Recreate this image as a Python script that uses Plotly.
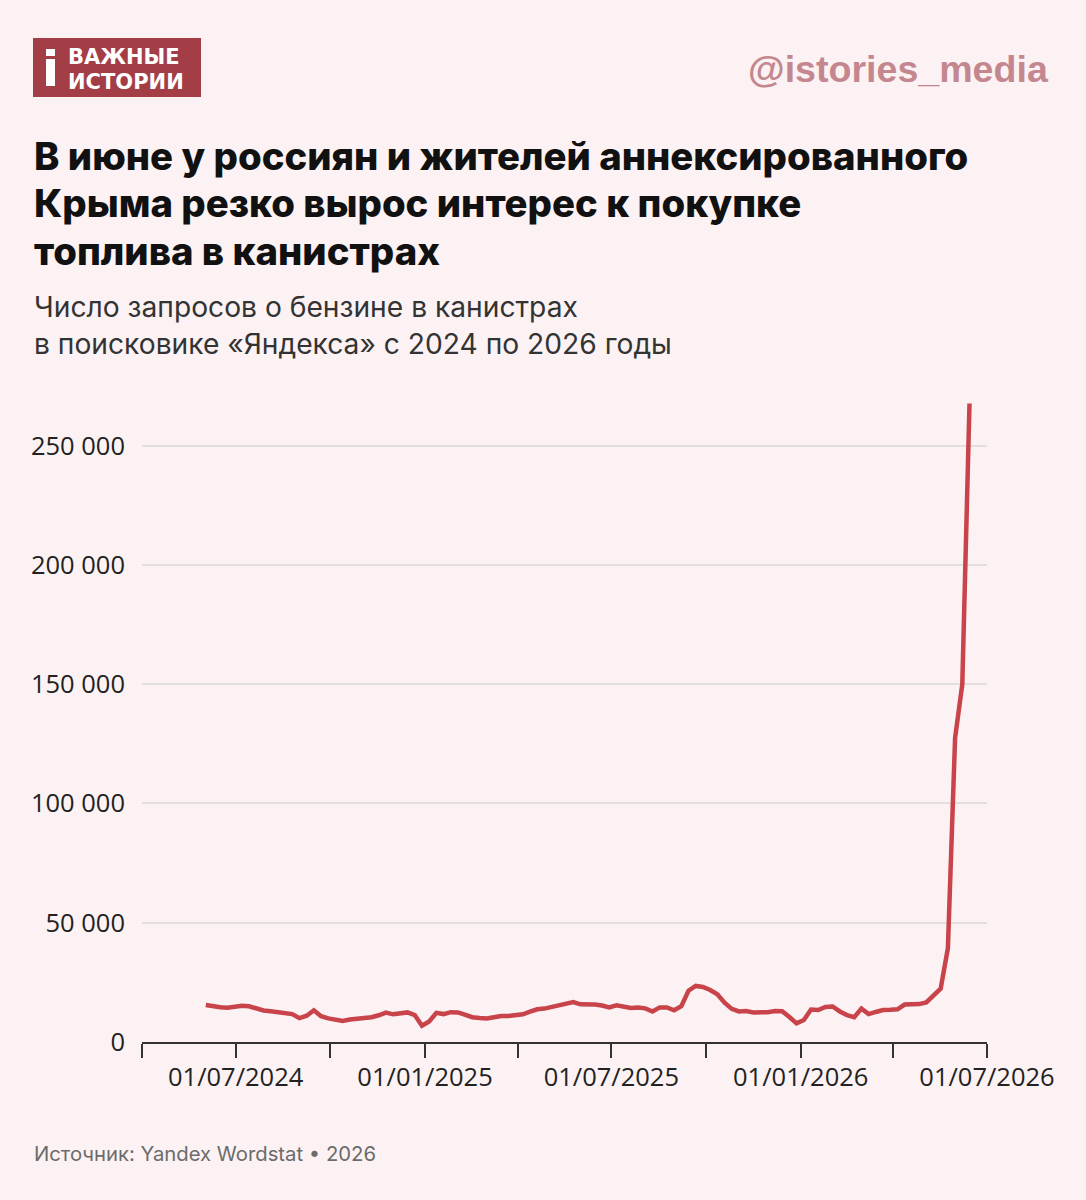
import plotly.graph_objects as go
import pandas as pd

# ---- data (weekly) ----
start_date = "2024-06-02"
n_weeks = 107
requests = [
    15500, 14900, 14600, 14400, 14900, 15200, 15000, 13900, 13200, 12900,
    12500, 12000, 11700, 10000, 11000, 13300, 10800, 9900, 9300, 8800,
    9400, 9700, 10000, 10400, 11200, 12300, 11600, 12200, 12400, 11300,
    6800, 8600, 12200, 11700, 12500, 12400, 11500, 10400, 10100, 9900,
    10400, 10900, 10900, 11200, 11600, 12700, 13700, 14000, 14700, 15500,
    16400, 16700, 15800, 15900, 15700, 15300, 14500, 15400, 14900, 14300,
    14500, 14100, 12800, 14500, 14500, 13300, 15000, 21500, 23500, 23100,
    21800, 20000, 16500, 13900, 12800, 13000, 12400, 12300, 12500, 13000,
    12900, 10500, 7800, 9200, 13600, 13400, 14700, 14900, 12800, 11300,
    10400, 14000, 11700, 12600, 13400, 13500, 13700, 15700, 15900, 15900,
    16600, 19500, 22400, 39300, 127500, 150000, 267700,
]
dates = pd.date_range(start_date, periods=n_weeks, freq="7D")

x_tickvals = ["2024-04-01", "2024-07-01", "2024-10-01", "2025-01-01", "2025-04-01",
              "2025-07-01", "2025-10-01", "2026-01-01", "2026-04-01", "2026-07-01"]
x_ticktext = ["", "01/07/2024", "", "01/01/2025", "", "01/07/2025", "",
              "01/01/2026", "", "01/07/2026"]
y_tickvals = [0, 50000, 100000, 150000, 200000, 250000]
y_ticktext = ["0", "50 000", "100 000", "150 000", "200 000", "250 000"]

title_lines = ["В июне у россиян и жителей аннексированного",
               "Крыма резко вырос интерес к покупке",
               "топлива в канистрах"]
subtitle_lines = ["Число запросов о бензине в канистрах",
                  "в поисковике «Яндекса» с 2024 по 2026 годы"]
source_text = "Источник: Yandex Wordstat • 2026"
logo_lines = ["ВАЖНЫЕ", "ИСТОРИИ"]
handle = "@istories_media"

# ---- layout geometry ----
W, H = 1086, 1200
L, R, T, B = 142, 99, 398, 158
PW, PH = W - L - R, H - T - B


def px(x):
    return (x - L) / PW


def py(y):
    return (H - B - y) / PH


BG = "#fcf2f3"
RED = "#c8434a"
LOGO = "#a33d46"

fig = go.Figure()
fig.add_trace(go.Scatter(
    x=dates, y=requests, mode="lines",
    line=dict(color=RED, width=4.5, shape="linear"),
    hoverinfo="skip", showlegend=False,
))

annotations = []
# title
for i, t in enumerate(title_lines):
    annotations.append(dict(
        text=t, x=px(32), y=py(156 + i * 47.5), xref="paper", yref="paper",
        xanchor="left", yanchor="middle", showarrow=False,
        font=dict(family="Inter", size=38.3, color="#111111", weight=800),
    ))
# subtitle
for i, t in enumerate(subtitle_lines):
    annotations.append(dict(
        text=t, x=px(32), y=py(307 + i * 37), xref="paper", yref="paper",
        xanchor="left", yanchor="middle", showarrow=False,
        font=dict(family="Inter", size=28.2, color="#333333"),
    ))
# source
annotations.append(dict(
    text=source_text, x=px(32), y=py(1153), xref="paper", yref="paper",
    xanchor="left", yanchor="middle", showarrow=False,
    font=dict(family="Inter", size=20.3, color="#6b6b6b"),
))
# handle
annotations.append(dict(
    text=handle, x=px(1051), y=py(69), xref="paper", yref="paper",
    xanchor="right", yanchor="middle", showarrow=False,
    font=dict(family="Liberation Sans", size=37.6, color="#c4878f", weight="bold"),
))
# logo text
for i, t in enumerate(logo_lines):
    annotations.append(dict(
        text=t, x=px(66), y=py(56.5 + i * 25), xref="paper", yref="paper",
        xanchor="left", yanchor="middle", showarrow=False,
        font=dict(family="DejaVu Sans", size=21, color="white", weight="bold"),
    ))

shapes = [
    dict(type="rect", xref="paper", yref="paper", x0=px(33), x1=px(201),
         y0=py(97), y1=py(38), fillcolor=LOGO, line=dict(width=0), layer="above"),
    dict(type="rect", xref="paper", yref="paper", x0=px(46), x1=px(55),
         y0=py(56), y1=py(49), fillcolor="white", line=dict(width=0), layer="above"),
    dict(type="rect", xref="paper", yref="paper", x0=px(46), x1=px(55),
         y0=py(86), y1=py(59), fillcolor="white", line=dict(width=0), layer="above"),
]

fig.update_layout(
    width=W, height=H,
    margin=dict(l=L, r=R, t=T, b=B),
    paper_bgcolor=BG, plot_bgcolor=BG,
    annotations=annotations, shapes=shapes,
    showlegend=False,
    xaxis=dict(
        range=["2024-04-01", "2026-07-01"], type="date",
        tickvals=x_tickvals, ticktext=x_ticktext,
        showgrid=False, zeroline=False,
        showline=True, linecolor="#333333", linewidth=2,
        ticks="outside", ticklen=14, tickwidth=2, tickcolor="#333333",
        tickfont=dict(family="Open Sans", size=25.5, color="#222222"),
        ticklabelstandoff=-3,
    ),
    yaxis=dict(
        range=[0, 270000],
        tickvals=y_tickvals, ticktext=y_ticktext,
        showgrid=True, gridcolor="#e3dfdf", gridwidth=2,
        zeroline=False, showline=False,
        ticks="", ticklabelstandoff=16,
        tickfont=dict(family="Open Sans", size=25.5, color="#222222"),
    ),
)

fig.write_html("out.html")
